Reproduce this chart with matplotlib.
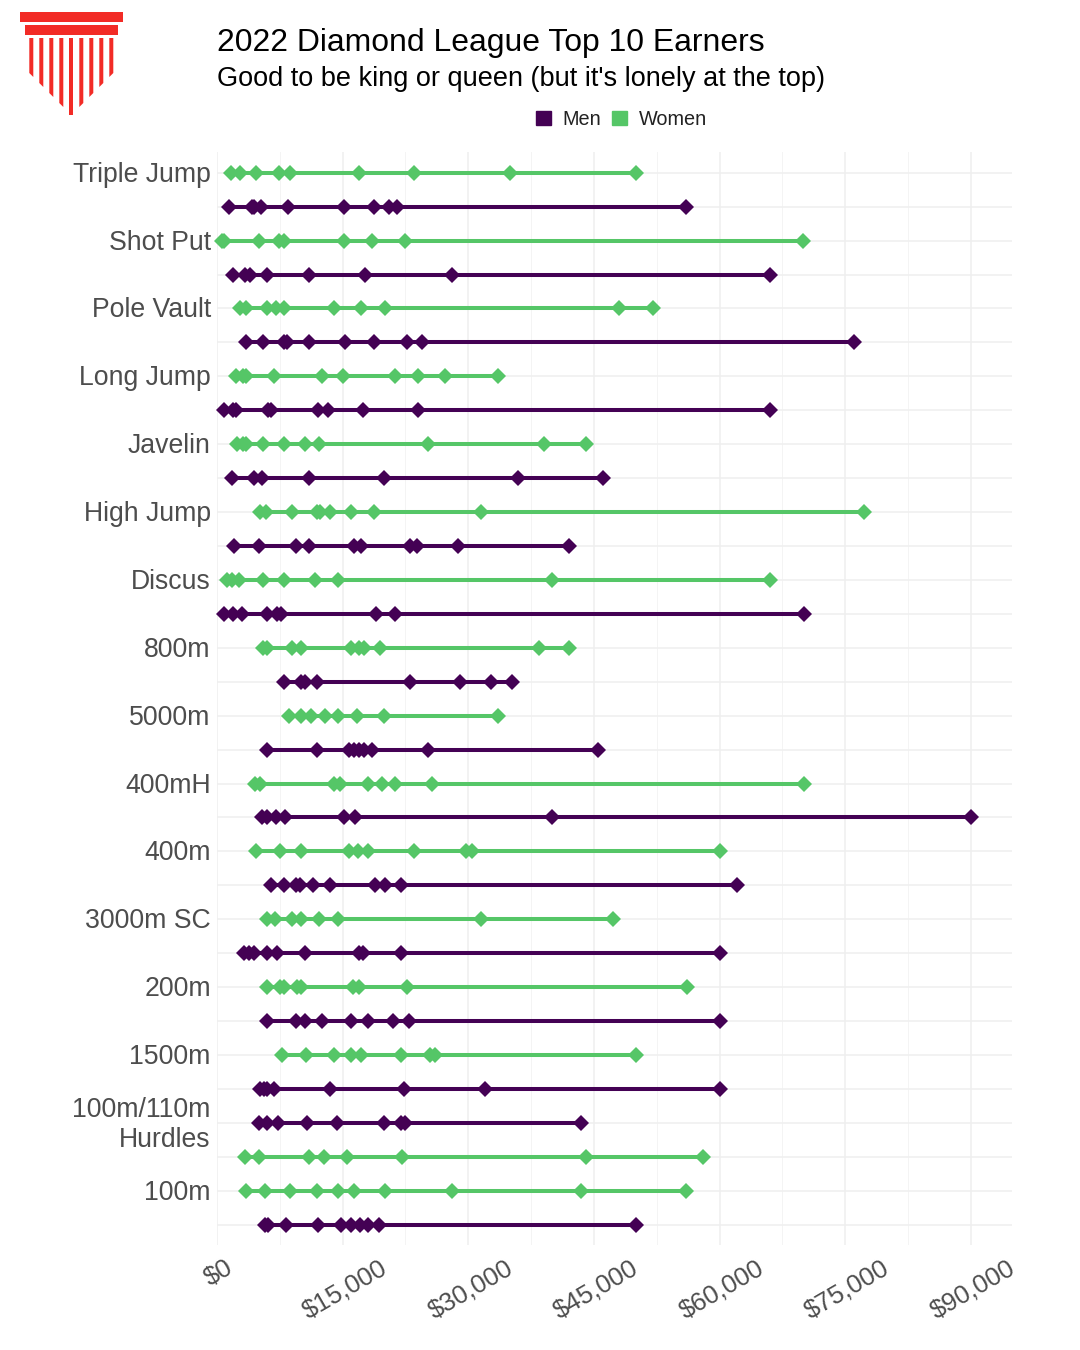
import matplotlib
matplotlib.use("Agg")
import matplotlib.pyplot as plt
from matplotlib.patches import Patch, Polygon, Rectangle
from matplotlib.transforms import ScaledTranslation

plt.rcParams['font.family'] = ['Liberation Sans', 'DejaVu Sans']

# earnings in thousands of dollars
triple_women = [1.67, 2.75, 4.69, 7.44, 8.71, 16.95, 23.48, 35.0, 49.98]
triple_men = [1.47, 4.14, 4.42, 5.2, 8.5, 15.2, 18.7, 20.5, 21.5, 56.0]
shot_women = [0.6, 0.85, 4.97, 7.44, 8.03, 15.2, 18.5, 22.5, 70.0]
shot_men = [1.95, 3.4, 3.9, 5.97, 11.0, 17.7, 28.0, 66.0]
pole_women = [2.7, 3.5, 6.0, 7.0, 8.0, 14.0, 17.2, 20.0, 47.95, 52.0]
pole_men = [3.5, 5.45, 8.0, 8.3, 11.0, 15.3, 18.7, 22.7, 24.5, 76.0]
long_women = [2.3, 3.15, 3.45, 6.77, 12.5, 15.0, 21.3, 24.0, 27.2, 33.5]
long_men = [0.87, 1.95, 2.27, 6.1, 6.5, 12.0, 13.25, 17.4, 24.0, 66.0]
javelin_women = [2.4, 3.1, 3.45, 5.5, 8.0, 10.5, 12.2, 25.2, 39.0, 44.0]
javelin_men = [1.8, 4.4, 5.37, 11.0, 19.9, 35.9, 46.07]
high_women = [5.13, 5.85, 8.95, 11.94, 12.3, 13.5, 16.0, 18.74, 31.5, 77.2]
high_men = [2.0, 5.0, 9.43, 11.0, 16.35, 17.2, 23.0, 23.9, 28.8, 42.0]
discus_women = [1.2, 1.8, 2.6, 5.5, 8.0, 11.7, 14.44, 40.0, 66.0]
discus_men = [0.84, 1.9, 3.0, 5.97, 7.16, 7.64, 19.0, 21.25, 70.06]
w800 = [5.5, 6.0, 8.95, 10.0, 16.0, 16.95, 17.55, 19.45, 38.4, 42.0]
m800 = [8.0, 10.0, 10.5, 11.94, 23.0, 29.0, 32.7, 35.2]
w5000 = [8.6, 10.0, 11.2, 12.9, 14.44, 16.7, 19.9, 33.5]
m5000 = [5.97, 11.94, 15.75, 16.35, 16.95, 17.55, 18.5, 25.2, 45.5]
w400h = [4.54, 5.13, 13.96, 14.7, 18.0, 19.7, 21.25, 25.66, 70.06]
m400h = [5.37, 5.97, 7.04, 8.1, 15.16, 16.47, 40.0, 90.0]
w400 = [4.65, 7.5, 10.0, 15.75, 16.83, 18.0, 23.5, 29.7, 30.4, 60.0]
m400 = [6.45, 8.0, 9.43, 9.9, 11.46, 13.5, 18.86, 20.05, 22.0, 62.07]
w3000sc = [5.97, 6.92, 8.95, 10.0, 12.17, 14.44, 31.5, 47.27]
m3000sc = [3.22, 3.82, 4.42, 5.97, 7.16, 10.5, 16.95, 17.43, 22.0, 60.0]
w200 = [5.97, 7.5, 8.0, 9.55, 10.0, 16.2, 16.95, 22.68, 56.1]
m200 = [5.97, 9.47, 10.5, 12.5, 16.0, 18.0, 21.0, 22.95, 60.0]
w1500 = [7.7, 10.6, 14.0, 16.0, 17.2, 22.0, 25.4, 26.0, 50.0]
m1500 = [5.13, 5.6, 5.97, 6.8, 13.5, 22.3, 31.95, 60.0]
hurdles_men = [4.97, 5.97, 7.25, 10.7, 14.36, 19.97, 21.96, 22.5, 43.5]
hurdles_women = [3.4, 4.97, 11.0, 12.8, 15.5, 22.05, 44.0, 58.0]
w100 = [3.5, 5.77, 8.7, 11.9, 14.5, 16.4, 20.0, 28.0, 43.45, 56.0]
m100 = [5.7, 6.05, 8.27, 12.0, 14.8, 16.0, 17.03, 18.0, 19.3, 50.0]

# top to bottom
rows = [
    ("Triple Jump", "W", triple_women), ("", "M", triple_men),
    ("Shot Put", "W", shot_women), ("", "M", shot_men),
    ("Pole Vault", "W", pole_women), ("", "M", pole_men),
    ("Long Jump", "W", long_women), ("", "M", long_men),
    ("Javelin", "W", javelin_women), ("", "M", javelin_men),
    ("High Jump", "W", high_women), ("", "M", high_men),
    ("Discus", "W", discus_women), ("", "M", discus_men),
    ("800m", "W", w800), ("", "M", m800),
    ("5000m", "W", w5000), ("", "M", m5000),
    ("400mH", "W", w400h), ("", "M", m400h),
    ("400m", "W", w400), ("", "M", m400),
    ("3000m SC", "W", w3000sc), ("", "M", m3000sc),
    ("200m", "W", w200), ("", "M", m200),
    ("1500m", "W", w1500), ("", "M", m1500),
    ("100m/110m\nHurdles", "M", hurdles_men), ("", "W", hurdles_women),
    ("100m", "W", w100), ("", "M", m100),
]
colors = {"M": "#440154", "W": "#55C667"}
x_ticks = [0, 15, 30, 45, 60, 75, 90]
x_minor = [7.5, 22.5, 37.5, 52.5, 67.5, 82.5]

W, H = 1080, 1350
fig = plt.figure(figsize=(W / 100, H / 100), dpi=100)
ax = fig.add_axes([217 / W, 1 - 1245.2 / H, (1012 - 217) / W, (1245.2 - 152.2) / H])

for i, (label, sex, vals) in enumerate(rows):
    ax.plot([min(vals), max(vals)], [i, i], color=colors[sex], lw=2.9,
            solid_capstyle='butt', zorder=3, clip_on=False)
    ax.plot(vals, [i] * len(vals), 'D', color=colors[sex], ms=8.4, mew=0,
            zorder=4, clip_on=False)

ax.set_xlim(0, 94.9)
ax.set_ylim(31.604, -0.604)
ax.set_xticks(x_ticks)
ax.set_xticks(x_minor, minor=True)
ax.set_xticklabels([f"${v * 1000:,}" for v in x_ticks], rotation=30, ha='center',
                   fontsize=18.5, color='#4D4D4D')
ax.set_yticks(range(len(rows)))
ax.set_yticklabels([r[0] for r in rows], fontsize=19.2, color='#4D4D4D', linespacing=1.2)
ax.tick_params(axis='both', which='both', length=0)
ax.tick_params(axis='x', pad=7)
ax.tick_params(axis='y', pad=4.5)

# small nudges in pixels so the labels sit where the reference has them
for t in ax.get_xticklabels():
    t.set_transform(t.get_transform() + ScaledTranslation(2 / 100, -1 / 100, fig.dpi_scale_trans))
for t in ax.get_yticklabels():
    up = 3 if "Hurdles" in t.get_text() else 1
    t.set_transform(t.get_transform() + ScaledTranslation(0, up / 100, fig.dpi_scale_trans))

ax.grid(True, which='major', color='#EFEFEF', lw=1.1)
ax.grid(True, which='minor', axis='x', color='#F4F4F4', lw=0.7)
ax.set_axisbelow(True)
for s in ax.spines.values():
    s.set_visible(False)

fig.text(217 / W, 1 - 43 / H, "2022 Diamond League Top 10 Earners", fontsize=22.95,
         color='black', va='center', ha='left')
fig.text(217 / W, 1 - 79 / H, "Good to be king or queen (but it's lonely at the top)",
         fontsize=19.5, color='black', va='center', ha='left')

fig.legend(handles=[Patch(color=colors["M"], label="Men"), Patch(color=colors["W"], label="Women")],
           loc='center', bbox_to_anchor=(621.5 / W, 1 - 119.5 / H), ncols=2, frameon=False,
           fontsize=14.3, handlelength=0.75, handleheight=0.75, handletextpad=0.6,
           columnspacing=0.55, labelcolor='#222222')

# logo, drawn in pixel coordinates
logo = fig.add_axes([0, 0, 1, 1], zorder=5)
logo.set_xlim(0, W)
logo.set_ylim(H, 0)
logo.axis('off')
red = '#F22B26'
logo.add_patch(Rectangle((20, 12), 103, 10, color=red, lw=0))
logo.add_patch(Rectangle((25, 25), 93, 10, color=red, lw=0))
col_x = [31.3, 41.3, 51.3, 61.3, 71.3, 81.3, 91.3, 101.3, 111.3]
col_bottom = [75, 85, 95, 105, 115, 105, 95, 85, 75]
for k, (cx, cb) in enumerate(zip(col_x, col_bottom)):
    d = 2 if k < 4 else -2
    if k == 4:
        pts = [(cx - 2, 38), (cx + 2, 38), (cx + 2, cb), (cx - 2, cb)]
    else:
        pts = [(cx - 2, 38), (cx + 2, 38), (cx + 2, cb + d), (cx - 2, cb - d)]
    logo.add_patch(Polygon(pts, closed=True, color=red, lw=0))

fig.savefig("out.png", dpi=100)
